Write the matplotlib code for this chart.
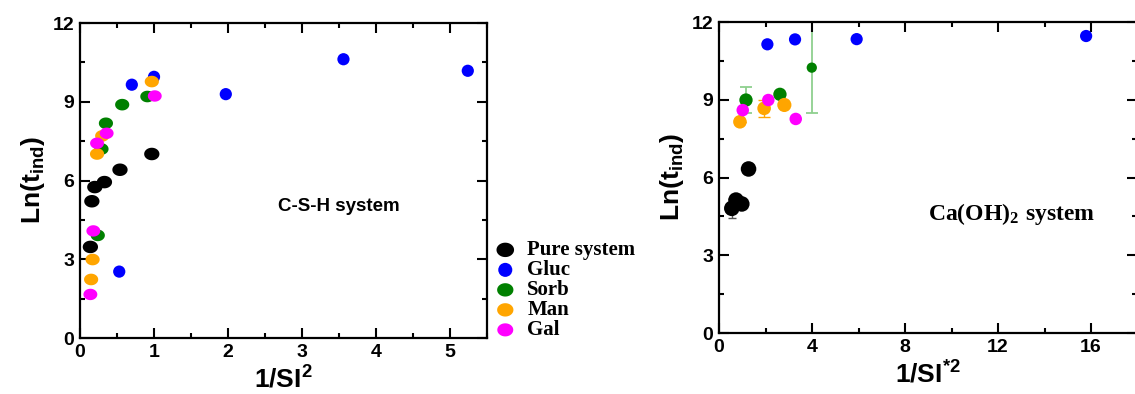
import numpy as np
import matplotlib
matplotlib.use("Agg")
import matplotlib.pyplot as plt
from matplotlib.path import Path
from matplotlib.markers import MarkerStyle

plt.rcParams['font.family'] = ['Liberation Sans', 'DejaVu Sans']
plt.rcParams['font.weight'] = 'bold'
plt.rcParams['mathtext.fontset'] = 'custom'
plt.rcParams['mathtext.rm'] = 'Liberation Sans:bold'
plt.rcParams['mathtext.bf'] = 'Liberation Sans:bold'
plt.rcParams['mathtext.it'] = 'Liberation Sans:bold'
plt.rcParams['mathtext.sf'] = 'Liberation Serif:bold'

# ---- C-S-H system: ln(t_ind) versus 1/SI^2 ----
csh_pure_x = [0.14, 0.16, 0.20, 0.33, 0.54, 0.97]
csh_pure_y = [3.47, 5.21, 5.75, 5.94, 6.41, 7.01]
csh_gluc_x = [0.53, 0.70, 1.00, 1.97, 3.56, 5.24]
csh_gluc_y = [2.53, 9.65, 9.95, 9.29, 10.62, 10.18]
csh_sorb_x = [0.24, 0.29, 0.35, 0.57, 0.91]
csh_sorb_y = [3.91, 7.20, 8.18, 8.89, 9.20]
csh_man_x = [0.15, 0.17, 0.23, 0.30, 0.97]
csh_man_y = [2.23, 2.99, 7.01, 7.70, 9.77]
csh_gal_x = [0.14, 0.18, 0.23, 0.36, 1.01]
csh_gal_y = [1.66, 4.08, 7.42, 7.80, 9.22]

# ---- Ca(OH)2 system: ln(t_ind) versus 1/SI*^2 ----
ch_pure_x = [0.55, 0.73, 0.98, 1.27]
ch_pure_y = [4.81, 5.13, 4.98, 6.33]
ch_pure_err = [0.38, 0.0, 0.0, 0.0]
ch_gluc_x = [2.08, 3.27, 5.92, 15.79]
ch_gluc_y = [11.14, 11.33, 11.34, 11.46]
ch_sorb_x = [1.16, 2.62, 3.99]
ch_sorb_y = [8.99, 9.21, 10.24]
ch_sorb_err = [0.49, 0.0, 1.75]
ch_man_x = [0.90, 1.94, 2.81]
ch_man_y = [8.15, 8.67, 8.80]
ch_man_err = [0.0, 0.32, 0.0]
ch_gal_x = [1.02, 2.12, 3.30]
ch_gal_y = [8.60, 8.99, 8.26]

labels = ['Pure system', 'Gluc', 'Sorb', 'Man', 'Gal']
colors = ['black', '#0000ff', '#008000', '#ffa500', '#ff00ff']

# slightly flattened disc used for the C-S-H markers
t = np.linspace(0, 2 * np.pi, 80)
ellipse = MarkerStyle(Path(np.column_stack([1.22 * np.cos(t), np.sin(t)]), closed=True))

fig = plt.figure(figsize=(11.35, 3.94), dpi=100)
ax1 = fig.add_axes([0.0705, 0.1421, 0.3586, 0.7995])
ax2 = fig.add_axes([0.6335, 0.1548, 0.3687, 0.7893])


def style_axes(ax, xmax, xmajor, xminor):
    ax.set_xlim(0, xmax)
    ax.set_ylim(0, 12)
    ax.set_xticks(np.arange(0, xmax + 1e-9, xmajor))
    ax.set_xticks(np.arange(0, xmax + 1e-9, xminor), minor=True)
    ax.set_yticks([0, 3, 6, 9, 12])
    ax.set_yticks(np.arange(0, 12.01, 1.5), minor=True)
    ax.tick_params(which='both', direction='in', top=True, right=True,
                   width=1.5, labelsize=14, pad=4)
    ax.tick_params(which='major', length=7)
    ax.tick_params(which='minor', length=3.6)
    for s in ax.spines.values():
        s.set_linewidth(1.6)
    for lab in ax.get_xticklabels() + ax.get_yticklabels():
        lab.set_fontweight('bold')
    ax.set_ylabel(r'Ln(t$_{\mathrm{ind}}$)', fontsize=19, fontweight='bold', labelpad=4)


# left panel
series_l = [(csh_pure_x, csh_pure_y, 11.0, ellipse),
            (csh_gluc_x, csh_gluc_y, 8.8, 'o'),
            (csh_sorb_x, csh_sorb_y, 10.2, ellipse),
            (csh_man_x, csh_man_y, 10.2, ellipse),
            (csh_gal_x, csh_gal_y, 10.0, ellipse)]
handles = []
for (x, y, ms, mk), c, lab in zip(series_l, colors, labels):
    sc = ax1.scatter(x, y, s=ms ** 2, marker=mk, color=c, edgecolors='none',
                     label=lab, clip_on=False, zorder=2)
    handles.append(sc)
style_axes(ax1, 5.5, 1, 0.5)
ax1.set_xlabel(r'1/SI$^{\mathrm{2}}$', fontsize=19, fontweight='bold', labelpad=4)
ax1.text(3.5, 5.0, 'C-S-H system', fontsize=13.5, fontweight='bold',
         ha='center', va='center')

fig.legend(handles=handles, labels=labels, loc='upper left',
           bbox_to_anchor=(0.436, 0.39), frameon=False,
           prop={'family': 'Liberation Serif', 'weight': 'bold', 'size': 15},
           handlelength=1.0, handletextpad=0.55, labelspacing=0.0,
           borderpad=0, borderaxespad=0, markerscale=1.15)

# right panel: error bars first, markers on top
ax2.errorbar(ch_pure_x, ch_pure_y, yerr=ch_pure_err, fmt='none',
             ecolor='#555555', elinewidth=1.0, capsize=3, capthick=1.0, zorder=1)
ax2.errorbar(ch_sorb_x, ch_sorb_y, yerr=ch_sorb_err, fmt='none',
             ecolor='#8fd08f', elinewidth=1.3, capsize=4, capthick=1.3, zorder=1)
ax2.errorbar(ch_man_x, ch_man_y, yerr=ch_man_err, fmt='none',
             ecolor='#ffa500', elinewidth=1.0, capsize=4, capthick=1.0, zorder=1)

series_r = [(ch_pure_x, ch_pure_y, [11.2, 11.2, 11.2, 11.2]),
            (ch_gluc_x, ch_gluc_y, [8.8, 8.8, 8.8, 8.8]),
            (ch_sorb_x, ch_sorb_y, [9.6, 9.6, 7.4]),
            (ch_man_x, ch_man_y, [9.8, 9.8, 10.2]),
            (ch_gal_x, ch_gal_y, [9.0, 9.0, 9.0])]
for (x, y, ms), c in zip(series_r, colors):
    ax2.scatter(x, y, s=np.array(ms) ** 2, marker='o', color=c,
                edgecolors='none', zorder=2)
style_axes(ax2, 18, 4, 2)
ax2.set_xlabel(r'1/SI$^{\mathrm{*2}}$', fontsize=19, fontweight='bold', labelpad=4)
ax2.text(12.6, 4.6, r'$\mathsf{Ca(OH)_2\ system}$', fontsize=17,
         ha='center', va='center')

fig.savefig('out.png', dpi=100)
